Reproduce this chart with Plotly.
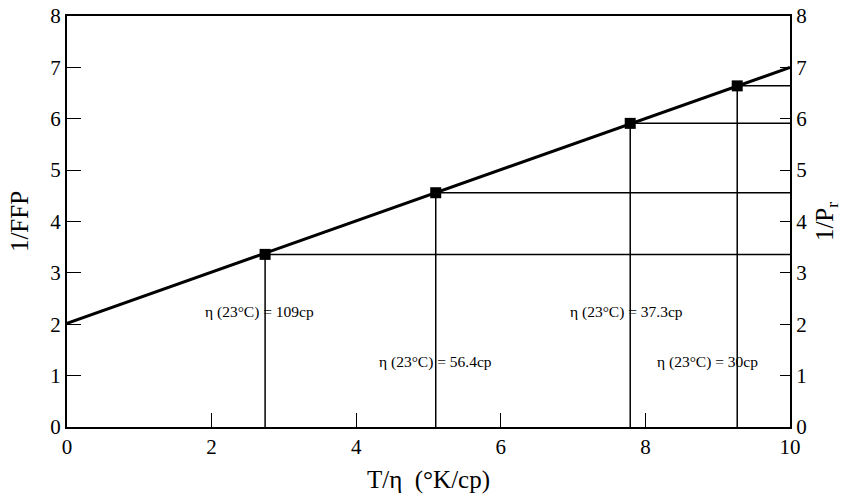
import plotly.graph_objects as go

# Data
fit_x = [0, 10]
fit_y = [2.02, 7.0]
pt_x = [2.74, 5.10, 7.79, 9.27]
pt_y = [3.36, 4.56, 5.91, 6.64]
labels = ["η (23°C) = 109cp", "η (23°C) = 56.4cp", "η (23°C) = 37.3cp", "η (23°C) = 30cp"]
label_x = [2.66, 5.10, 7.74, 8.86]
label_y = [2.24, 1.27, 2.24, 1.27]
x_ticks = [0, 2, 4, 6, 8, 10]
y_ticks = [0, 1, 2, 3, 4, 5, 6, 7, 8]
x_max = 10

FONT = "Liberation Serif, Times New Roman, serif"

fig = go.Figure()

# drop lines (vertical to x-axis, horizontal to right axis)
for x, y in zip(pt_x, pt_y):
    fig.add_trace(go.Scatter(x=[x, x], y=[0, y], mode="lines",
                             line=dict(color="black", width=1.5), showlegend=False, hoverinfo="skip"))
    fig.add_trace(go.Scatter(x=[x, x_max], y=[y, y], mode="lines",
                             line=dict(color="black", width=1.5), showlegend=False, hoverinfo="skip"))

fig.add_trace(go.Scatter(x=fit_x, y=fit_y, mode="lines",
                         line=dict(color="black", width=3), showlegend=False))
fig.add_trace(go.Scatter(x=pt_x, y=pt_y, mode="markers",
                         marker=dict(symbol="square", size=11, color="black"), showlegend=False))
# invisible trace for right axis
fig.add_trace(go.Scatter(x=[0], y=[0], yaxis="y2", mode="markers",
                         marker=dict(opacity=0), showlegend=False, hoverinfo="skip"))

for t, x, y in zip(labels, label_x, label_y):
    fig.add_annotation(x=x, y=y, text=t, showarrow=False, xanchor="center", yanchor="middle",
                       font=dict(family=FONT, size=15.5, color="black"))

axis_common = dict(showline=True, linecolor="black", linewidth=2, ticks="inside",
                   tickcolor="black", showgrid=False, zeroline=False, automargin=False,
                   tickfont=dict(family=FONT, size=21, color="black"))

fig.update_layout(
    width=842, height=494,
    margin=dict(l=67, r=52, t=16, b=67),
    plot_bgcolor="white", paper_bgcolor="white",
    xaxis=dict(range=[0, 10], tickvals=x_ticks, ticklen=14, mirror=True,
               title=dict(text="T/η  (°K/cp)", font=dict(family=FONT, size=25, color="black")),
               **axis_common),
    yaxis=dict(range=[0, 8], tickvals=y_ticks, ticklen=14, mirror=True,
               title=dict(text="1/FFP", font=dict(family=FONT, size=25, color="black")),
               **axis_common),
    yaxis2=dict(range=[0, 8], tickvals=y_ticks, ticklen=10, overlaying="y", side="right",
                title=dict(text="1/P<sub>r</sub>", font=dict(family=FONT, size=25, color="black")),
                **axis_common),
)

fig.write_html("out.html")
